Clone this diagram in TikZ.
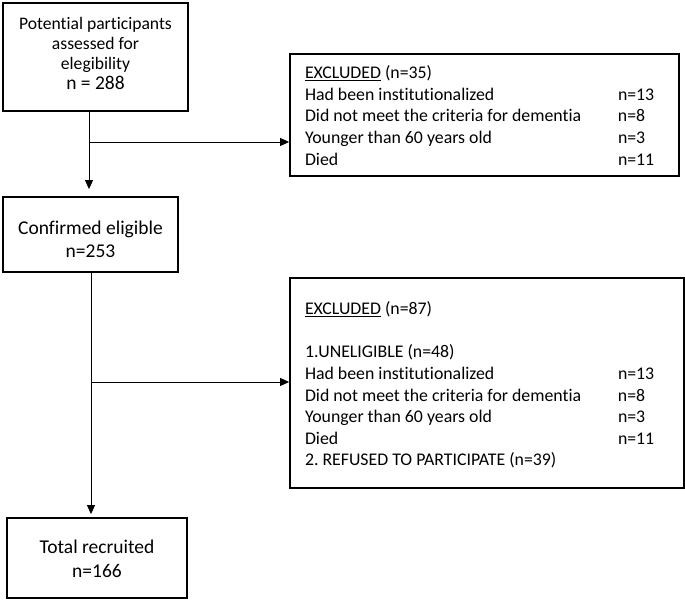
\documentclass[tikz,border=0pt]{standalone}
\usepackage{fontspec}
\setmainfont[Ligatures=NoCommon]{Carlito}
\usetikzlibrary{arrows.meta}
\frenchspacing
\tikzset{
  box/.style={draw=black, line width=1.8pt, rectangle, inner sep=0pt},
  txt/.style={inner sep=0pt, align=center},
  conn/.style={line width=0.9pt, -{Triangle[length=9pt,width=8pt]}}
}
\newcommand{\listtxt}{\fontsize{17.8}{21.6}\selectfont}
\begin{document}
\begin{tikzpicture}[x=1pt,y=-1pt]
\useasboundingbox (0,0) rectangle (685,600);
% boxes
\node[box, minimum width=185pt, minimum height=108pt] (b1) at (95.5,57) {};
\node[box, minimum width=389pt, minimum height=122pt] (b2) at (484.5,115) {};
\node[box, minimum width=175pt, minimum height=75pt] (b3) at (90.5,234.5) {};
\node[box, minimum width=394pt, minimum height=210pt] (b4) at (487,383) {};
\node[box, minimum width=180pt, minimum height=80pt] (b5) at (97,558) {};
% texts
\node[txt, font=\fontsize{17.6}{20}\selectfont] (t1) at ([yshift=4pt]b1.center)
  {Potential participants\\ assessed for\\ elegibility\\ {\fontsize{19.5}{20}\selectfont n = 288}};
\node[txt, font=\listtxt] (t2) at ([yshift=-2.5pt]b2.center)
  {\begin{tabular}{@{}p{313pt}@{}p{46pt}@{}}
  \underline{EXCLUDED} (n=35) & \\
  Had been institutionalized & n=13\\
  Did not meet the criteria for dementia & n=8\\
  Younger than 60 years old & n=3\\
  Died & n=11
  \end{tabular}};
\node[txt, font=\fontsize{19.5}{23}\selectfont] (t3) at ([yshift=-5pt]b3.center)
  {Confirmed eligible\\ n=253};
\node[txt, font=\listtxt] (t4) at ([yshift=-3pt]b4.center)
  {\begin{tabular}{@{}p{313pt}@{}p{51pt}@{}}
  \underline{EXCLUDED} (n=87) & \\
  & \\
  1.UNELIGIBLE (n=48) & \\
  Had been institutionalized & n=13\\
  Did not meet the criteria for dementia & n=8\\
  Younger than 60 years old & n=3\\
  Died & n=11\\
  2. REFUSED TO PARTICIPATE (n=39) &
  \end{tabular}};
\node[txt, font=\fontsize{19.5}{24}\selectfont] (t5) at ([yshift=-1pt]b5.center)
  {Total recruited\\ n=166};
% connectors
\coordinate (c1) at (89,142);
\coordinate (c2) at (91,382);
\draw[conn, shorten >=7pt] (c1 |- b1.south) -- (c1 |- b3.north);
\draw[conn] (c1) -- (c1 -| b2.west);
\draw[conn, shorten >=3pt] (c2 |- b3.south) -- (c2 |- b5.north);
\draw[conn] (c2) -- (c2 -| b4.west);
\end{tikzpicture}
\end{document}
